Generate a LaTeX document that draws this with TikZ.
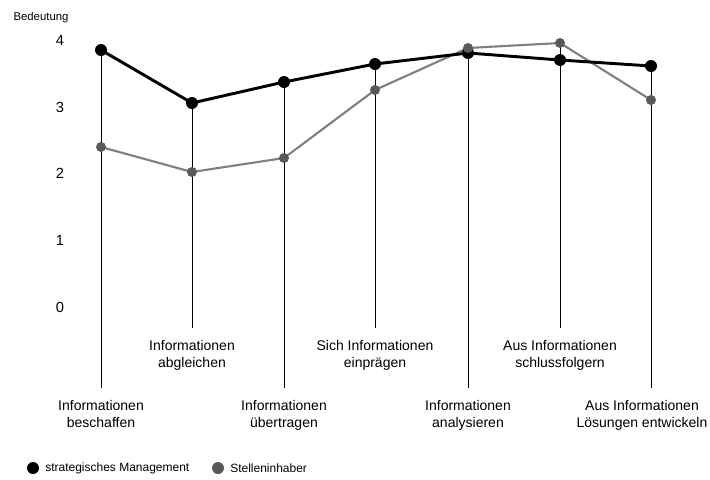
\documentclass[tikz,border=0pt]{standalone}
\usepackage{fontspec}
\setmainfont{Liberation Sans}
\usetikzlibrary{backgrounds}

\begin{document}
\begin{tikzpicture}[x=0.75pt,y=-0.75pt]
  \tikzstyle{smark}=[circle,fill=black,minimum size=9pt,inner sep=0pt]
  \tikzstyle{gmark}=[circle,fill=black!65,minimum size=7.5pt,inner sep=0pt]
  \tikzstyle{task}=[align=center,anchor=north,inner sep=0pt,outer sep=9pt,font=\fontsize{10.5}{12.75}\selectfont]
  \tikzstyle{num}=[font=\fontsize{11}{13}\selectfont]
  \tikzstyle{legend}=[anchor=west,inner sep=0pt,font=\fontsize{9}{11}\selectfont]
  \useasboundingbox (0,0) rectangle (710,479);
  % axis
  \node[font=\fontsize{8.5}{10}\selectfont] (axis) at (41,18) {Bedeutung};
  \node[num] (v4) at (60,40) {4};
  \node[num] (v3) at (60,107) {3};
  \node[num] (v2) at (60,173) {2};
  \node[num] (v1) at (60,240) {1};
  \node[num] (v0) at (60,307) {0};
  % strategisches Management
  \node[smark] (S_1) at (101,50) {};
  \node[smark] (S_2) at (192,103) {};
  \node[smark] (S_3) at (284,82) {};
  \node[smark] (S_4) at (375,64) {};
  \node[smark] (S_5) at (468,53) {};
  \node[smark] (S_6) at (560,60) {};
  \node[smark] (S_7) at (651,66) {};
  % Stelleninhaber
  \node[gmark] (G_1) at (101,147) {};
  \node[gmark] (G_2) at (192,172) {};
  \node[gmark] (G_3) at (284,158) {};
  \node[gmark] (G_4) at (375,90) {};
  \node[gmark] (G_5) at (468,48) {};
  \node[gmark] (G_6) at (560,43) {};
  \node[gmark] (G_7) at (651,100) {};
  % Taetigkeiten
  \node[task] (L_1) at (101,388) {Informationen\\beschaffen};
  \node[task] (L_2) at (192,328) {Informationen\\abgleichen};
  \node[task] (L_3) at (284,388) {Informationen\\übertragen};
  \node[task] (L_4) at (375,328) {Sich Informationen\\einprägen};
  \node[task] (L_5) at (468,388) {Informationen\\analysieren};
  \node[task] (L_6) at (560,328) {Aus Informationen\\schlussfolgern};
  \node[task] (L_7) at (642,388) {Aus Informationen\\Lösungen entwickeln};
  % Legende
  \node[smark,minimum size=9pt] (K_1) at (33,468) {};
  \node[legend] (T_1) at (45,468) {strategisches Management};
  \node[gmark,minimum size=9pt] (K_2) at (218,468) {};
  \node[legend] (T_2) at (230,468) {Stelleninhaber};
  \begin{scope}[on background layer]
    \draw[line width=0.6pt] (S_1.center) -- (L_1);
    \draw[line width=0.6pt] (S_2.center) -- (L_2);
    \draw[line width=0.6pt] (S_3.center) -- (L_3);
    \draw[line width=0.6pt] (S_4.center) -- (L_4);
    \draw[line width=0.6pt] (G_5.center) -- (L_5);
    \draw[line width=0.6pt] (G_6.center) -- (L_6);
    \draw[line width=0.6pt] (S_7.center) -- (S_7 |- L_7.north);
    \draw[black!50,line width=1.6pt] (G_1.center) -- (G_2.center) -- (G_3.center) -- (G_4.center)
      -- (G_5.center) -- (G_6.center) -- (G_7.center);
    \draw[line width=2.2pt] (S_1.center) -- (S_2.center) -- (S_3.center) -- (S_4.center)
      -- (S_5.center) -- (S_6.center) -- (S_7.center);
  \end{scope}
\end{tikzpicture}
\end{document}
